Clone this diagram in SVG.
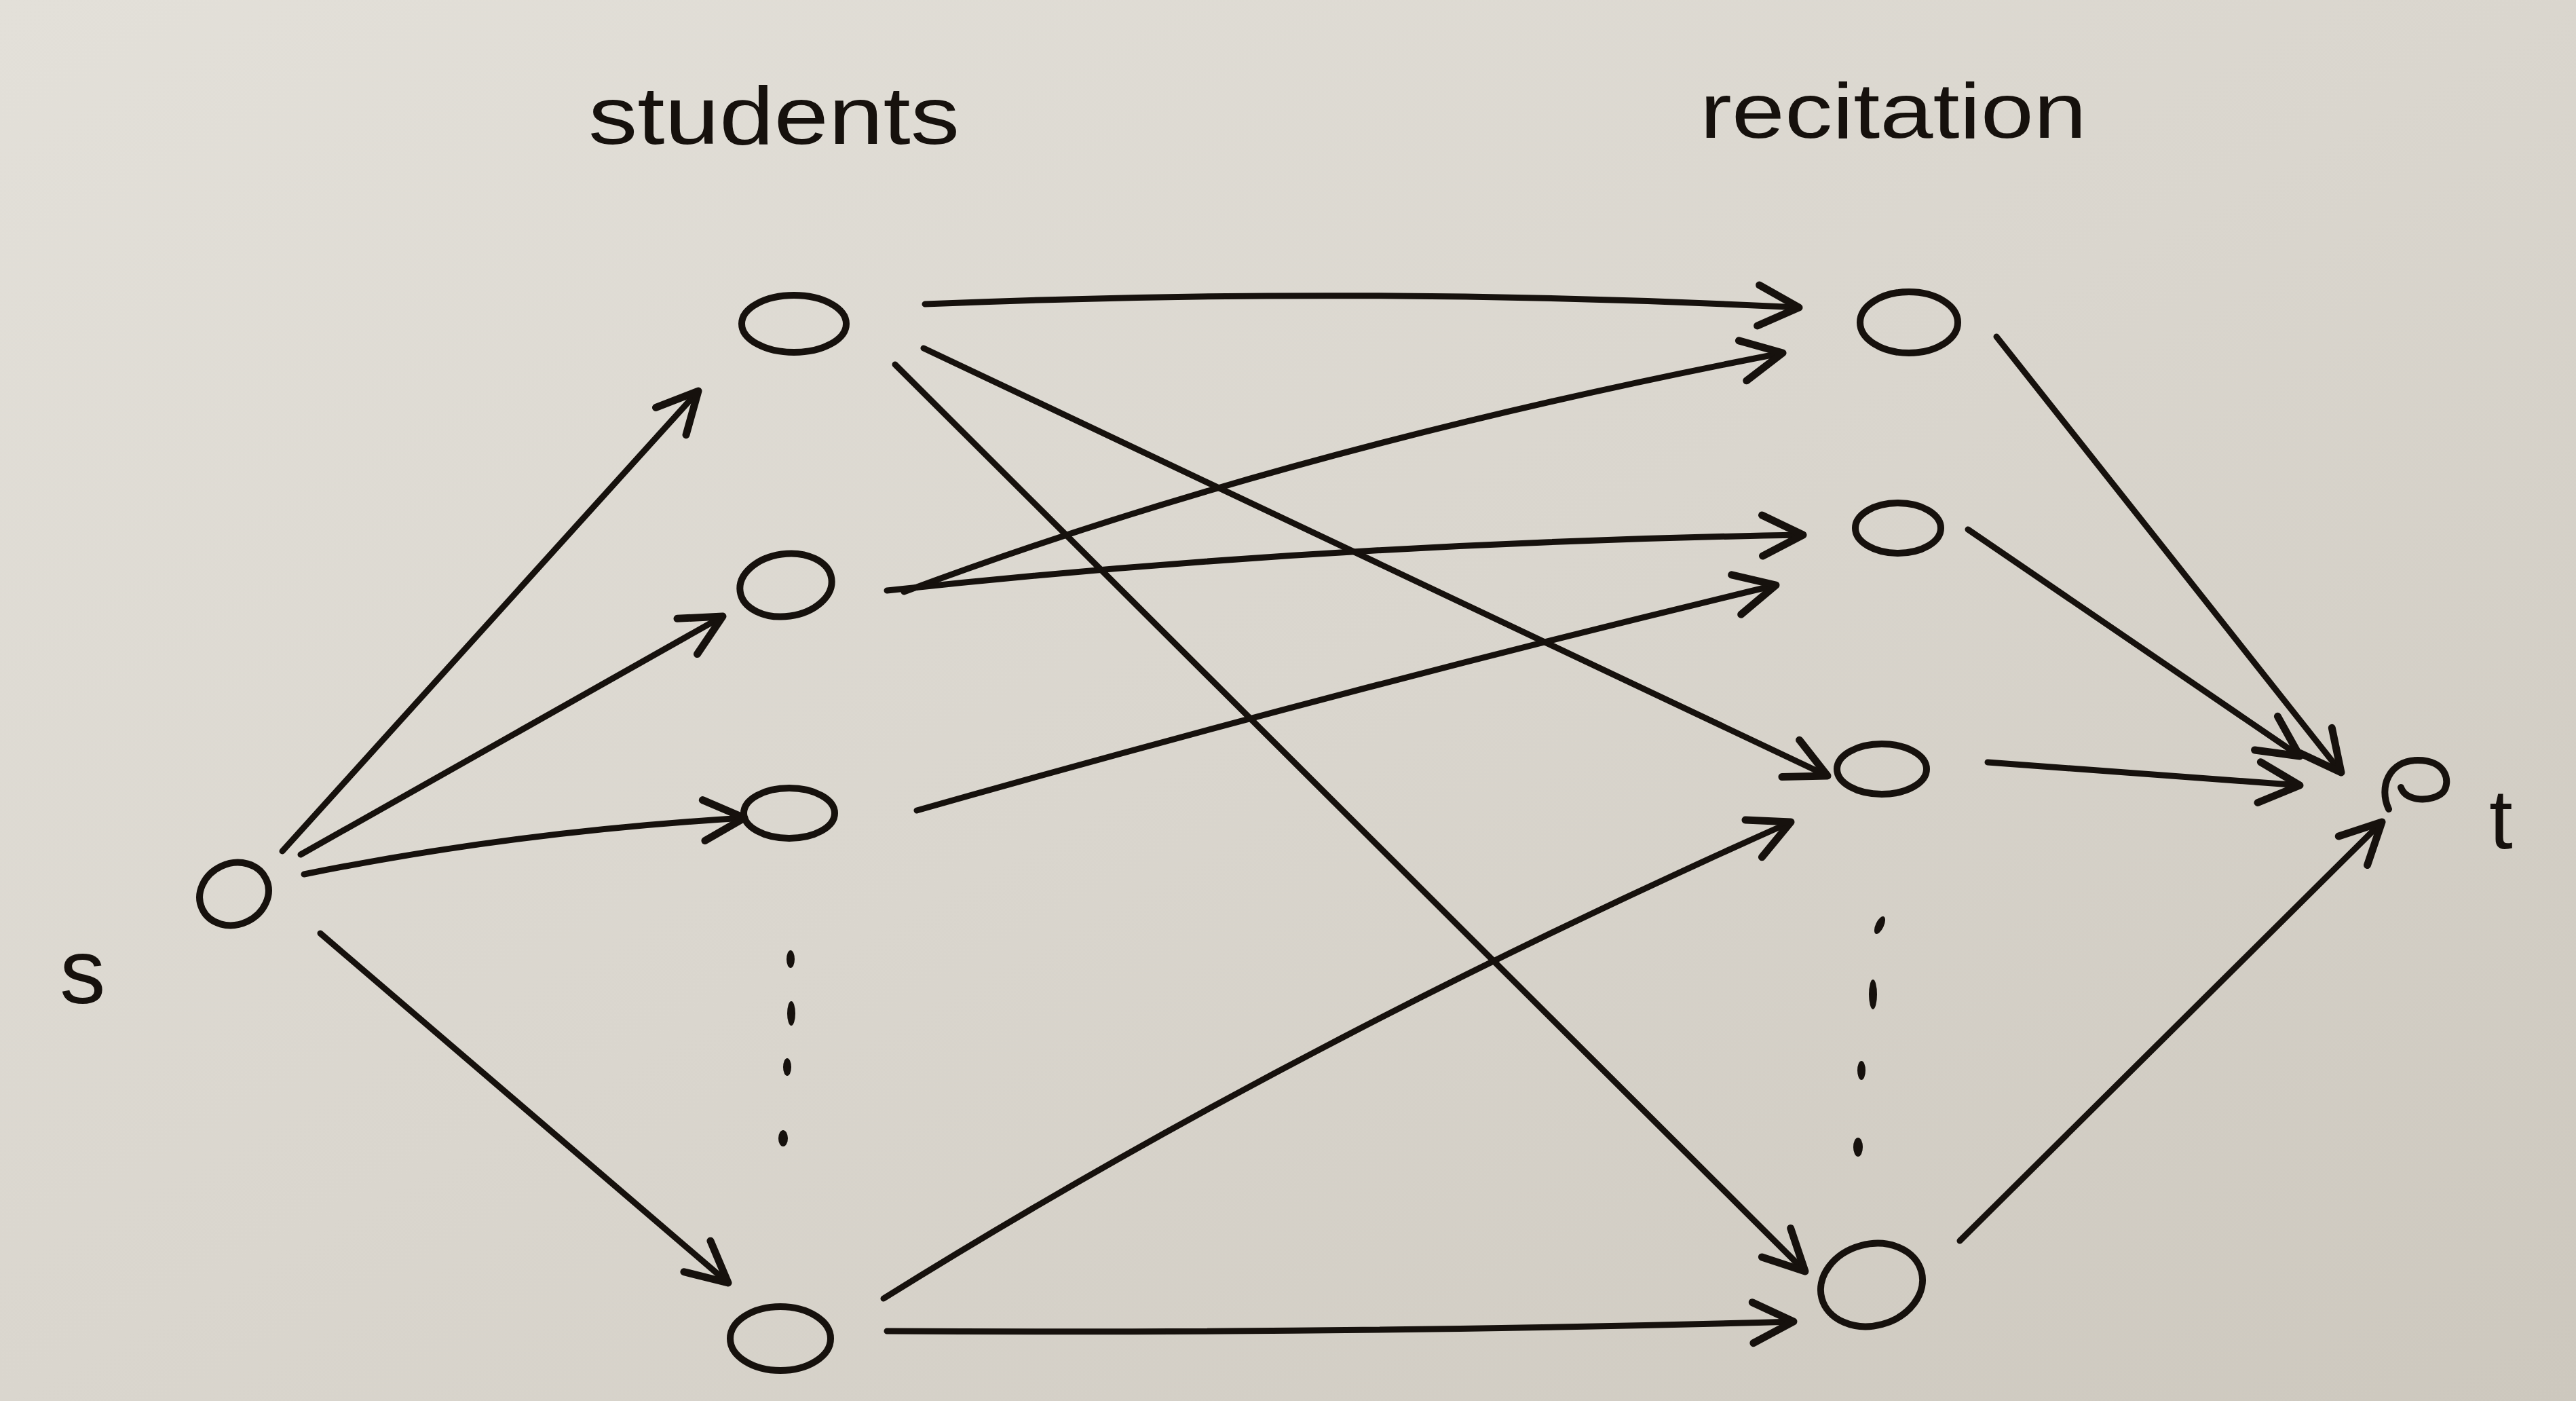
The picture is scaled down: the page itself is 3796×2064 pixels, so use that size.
<svg xmlns="http://www.w3.org/2000/svg" width="3796" height="2064" viewBox="0 0 3796 2064">
<defs>
<linearGradient id="paper" x1="0" y1="0" x2="1" y2="1">
<stop offset="0" stop-color="#e3e0d9"/>
<stop offset="0.5" stop-color="#dad6ce"/>
<stop offset="1" stop-color="#cdc8be"/>
</linearGradient>
<marker id="arr" markerUnits="userSpaceOnUse" markerWidth="140" markerHeight="140" refX="0" refY="0" viewBox="-70 -70 140 140" orient="auto" overflow="visible">
<path d="M -60 -30 L 0 0 L -60 30" fill="none" stroke="#16110d" stroke-width="11" stroke-linecap="round" stroke-linejoin="round"/>
</marker>
<style>
.node{fill:none;stroke:#16110d;stroke-width:10;stroke-linecap:round}
.edge{fill:none;stroke:#16110d;stroke-width:9;stroke-linecap:round;marker-end:url(#arr)}
.dot{fill:#16110d}
.lbl{font-family:"Liberation Sans","DejaVu Sans",sans-serif;fill:#16110d}
</style>
</defs>
<rect width="3796" height="2064" fill="url(#paper)"/>

<text class="lbl" x="867" y="212" font-size="120" textLength="547" lengthAdjust="spacingAndGlyphs">students</text>
<text class="lbl" x="2505" y="203" font-size="115" textLength="570" lengthAdjust="spacingAndGlyphs">recitation</text>

<g id="connectors">
<path class="edge" d="M416,1254 L1029,576"/>
<path class="edge" d="M443,1259 L1065,908"/>
<path class="edge" d="M448,1288 Q760,1225 1097,1205"/>
<path class="edge" d="M472,1375 L1073,1890"/>
<path class="edge" d="M1363,448 Q2011,421 2651,453"/>
<path class="edge" d="M1361,513 L2693,1143"/>
<path class="edge" d="M1319,537 L2660,1873"/>
<path class="edge" d="M1332,872 Q1900,660 2627,520"/>
<path class="edge" d="M1307,870 Q1950,800 2657,788"/>
<path class="edge" d="M1351,1194 Q2000,1010 2617,862"/>
<path class="edge" d="M1302,1913 Q1900,1540 2639,1211"/>
<path class="edge" d="M1307,1961 Q2000,1965 2643,1947"/>
<path class="edge" d="M2942,496 L3450,1138"/>
<path class="edge" d="M2900,780 L3389,1114"/>
<path class="edge" d="M2929,1123 L3389,1157"/>
<path class="edge" d="M2888,1828 L3510,1211"/>
</g>

<g id="node-s">
<ellipse class="node" cx="345" cy="1317" rx="52" ry="45" transform="rotate(-25 345 1317)"/>
<text class="lbl" x="88" y="1478" font-size="135">s</text>
</g>
<g id="node-student1"><ellipse class="node" cx="1170" cy="477" rx="77" ry="42"/></g>
<g id="node-student2"><ellipse class="node" cx="1158" cy="862" rx="68" ry="46" transform="rotate(-8 1158 862)"/></g>
<g id="node-student3"><ellipse class="node" cx="1163" cy="1198" rx="67" ry="37"/></g>
<g id="student-dots">
<ellipse class="dot" cx="1165" cy="1413" rx="6" ry="13"/>
<ellipse class="dot" cx="1166" cy="1493" rx="6" ry="18"/>
<ellipse class="dot" cx="1160" cy="1572" rx="6" ry="13"/>
<ellipse class="dot" cx="1154" cy="1677" rx="7" ry="12"/>
</g>
<g id="node-student4"><ellipse class="node" cx="1150" cy="1972" rx="74" ry="47"/></g>

<g id="node-recitation1"><ellipse class="node" cx="2813" cy="475" rx="72" ry="45"/></g>
<g id="node-recitation2"><ellipse class="node" cx="2797" cy="778" rx="63" ry="37"/></g>
<g id="node-recitation3"><ellipse class="node" cx="2773" cy="1133" rx="66" ry="37"/></g>
<g id="recitation-dots">
<ellipse class="dot" cx="2770" cy="1363" rx="6" ry="14" transform="rotate(25 2770 1363)"/>
<ellipse class="dot" cx="2760" cy="1465" rx="6" ry="22"/>
<ellipse class="dot" cx="2743" cy="1577" rx="6" ry="14"/>
<ellipse class="dot" cx="2738" cy="1690" rx="7" ry="14"/>
</g>
<g id="node-recitation4"><ellipse class="node" cx="2758" cy="1893" rx="76" ry="60" transform="rotate(-15 2758 1893)"/></g>

<g id="node-t">
<path class="node" d="M3520,1192 C3505,1160 3520,1120 3563,1120 C3605,1120 3612,1152 3600,1167 C3585,1182 3545,1182 3538,1160"/>
<text class="lbl" x="3668" y="1250" font-size="125">t</text>
</g>
</svg>
